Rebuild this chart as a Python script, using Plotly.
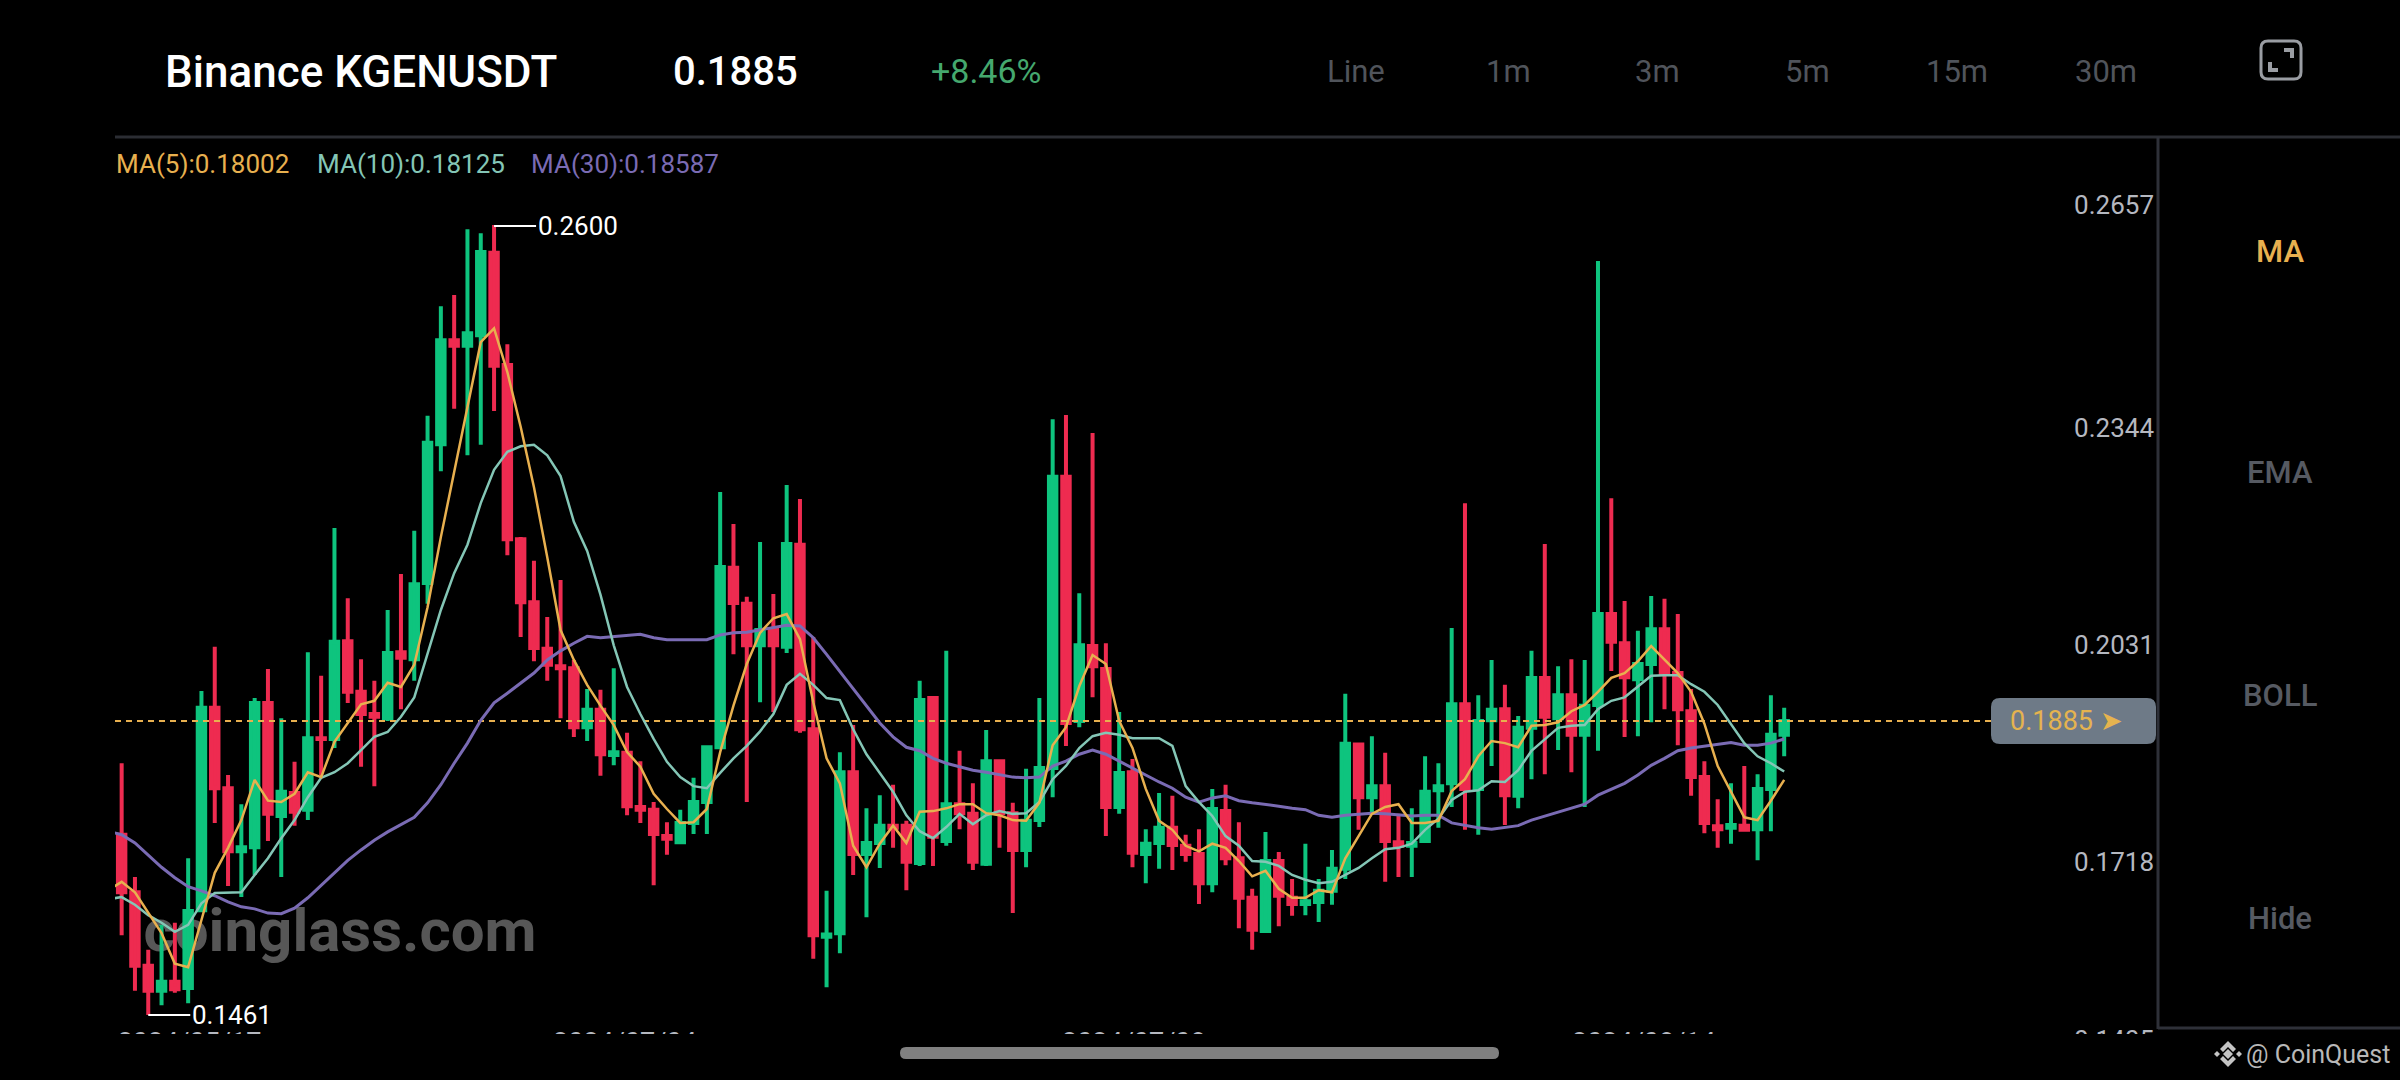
import plotly.graph_objects as go

W, H = 2400, 1080

# candles, oldest first
opens = [0.1721, 0.1638, 0.1532, 0.1496, 0.1509, 0.1500, 0.1612, 0.1904, 0.1788, 0.1697,
         0.1703, 0.1911, 0.1748, 0.1781, 0.1757, 0.1860, 0.1859, 0.2000, 0.1927, 0.1895,
         0.1889, 0.1984, 0.1974, 0.2084, 0.2284, 0.2434, 0.2426, 0.2441, 0.2560, 0.2398,
         0.2147, 0.2056, 0.1989, 0.1964, 0.1961, 0.1876, 0.1901, 0.1836, 0.1839, 0.1761,
         0.1757, 0.1719, 0.1710, 0.1738, 0.1768, 0.1847, 0.2106, 0.2054, 0.1994, 0.2016,
         0.1992, 0.2139, 0.1873, 0.1574, 0.1579, 0.1811, 0.1693, 0.1709, 0.1734, 0.1734,
         0.1680, 0.1918, 0.1712, 0.1765, 0.1751, 0.1679, 0.1827, 0.1752, 0.1699, 0.1742,
         0.1817, 0.2237, 0.1885, 0.1993, 0.1960, 0.1761, 0.1811, 0.1693, 0.1709, 0.1731,
         0.1705, 0.1693, 0.1651, 0.1755, 0.1687, 0.1630, 0.1582, 0.1683, 0.1630, 0.1621,
         0.1624, 0.1640, 0.1672, 0.1851, 0.1775, 0.1791, 0.1710, 0.1705, 0.1712, 0.1785,
         0.1795, 0.1909, 0.1787, 0.1886, 0.1902, 0.1777, 0.1875, 0.1947, 0.1889, 0.1922,
         0.1865, 0.1908, 0.2039, 0.1997, 0.1945, 0.1967, 0.2017, 0.1954, 0.1899, 0.1804,
         0.1733, 0.1731, 0.1734, 0.1729, 0.1787, 0.1865]
highs = [0.1824, 0.1660, 0.1555, 0.1591, 0.1594, 0.1687, 0.1928, 0.1992, 0.1807, 0.1765,
         0.1918, 0.1960, 0.1889, 0.1826, 0.1984, 0.1950, 0.2163, 0.2062, 0.1974, 0.1943,
         0.2045, 0.2097, 0.2159, 0.2325, 0.2483, 0.2499, 0.2594, 0.2588, 0.2600, 0.2428,
         0.2150, 0.2116, 0.2035, 0.2088, 0.1973, 0.1931, 0.1930, 0.1961, 0.1868, 0.1827,
         0.1768, 0.1739, 0.1757, 0.1803, 0.1849, 0.2215, 0.2169, 0.2064, 0.2143, 0.2068,
         0.2225, 0.2205, 0.2006, 0.1640, 0.1840, 0.1879, 0.1759, 0.1778, 0.1793, 0.1741,
         0.1943, 0.1920, 0.1986, 0.1842, 0.1795, 0.1872, 0.1829, 0.1767, 0.1816, 0.1918,
         0.2320, 0.2326, 0.2069, 0.2300, 0.1997, 0.1898, 0.1830, 0.1729, 0.1781, 0.1777,
         0.1721, 0.1729, 0.1787, 0.1793, 0.1739, 0.1643, 0.1725, 0.1696, 0.1657, 0.1708,
         0.1657, 0.1699, 0.1924, 0.1852, 0.1863, 0.1839, 0.1751, 0.1759, 0.1834, 0.1824,
         0.2019, 0.2199, 0.1922, 0.1973, 0.1937, 0.1892, 0.1986, 0.2140, 0.1964, 0.1974,
         0.1973, 0.2548, 0.2206, 0.2058, 0.2015, 0.2065, 0.2061, 0.2039, 0.1931, 0.1827,
         0.1772, 0.1795, 0.1820, 0.1808, 0.1922, 0.1904]
lows = [0.1576, 0.1496, 0.1461, 0.1475, 0.1493, 0.1478, 0.1610, 0.1738, 0.1647, 0.1631,
        0.1663, 0.1712, 0.1660, 0.1734, 0.1742, 0.1807, 0.1846, 0.1911, 0.1819, 0.1791,
        0.1885, 0.1902, 0.1943, 0.2054, 0.2245, 0.2335, 0.2268, 0.2283, 0.2332, 0.2124,
        0.2006, 0.1971, 0.1943, 0.1889, 0.1862, 0.1856, 0.1806, 0.1821, 0.1749, 0.1738,
        0.1648, 0.1692, 0.1709, 0.1722, 0.1722, 0.1846, 0.1981, 0.1768, 0.1912, 0.1898,
        0.1983, 0.1868, 0.1542, 0.1501, 0.1550, 0.1663, 0.1602, 0.1673, 0.1702, 0.1641,
        0.1676, 0.1676, 0.1705, 0.1729, 0.1670, 0.1676, 0.1702, 0.1608, 0.1674, 0.1732,
        0.1775, 0.1849, 0.1876, 0.1919, 0.1719, 0.1751, 0.1674, 0.1651, 0.1672, 0.1670,
        0.1682, 0.1621, 0.1638, 0.1677, 0.1586, 0.1555, 0.1580, 0.1589, 0.1604, 0.1605,
        0.1595, 0.1620, 0.1657, 0.1728, 0.1751, 0.1653, 0.1660, 0.1660, 0.1710, 0.1731,
        0.1761, 0.1728, 0.1721, 0.1820, 0.1735, 0.1759, 0.1801, 0.1808, 0.1843, 0.1811,
        0.1761, 0.1842, 0.1957, 0.1862, 0.1863, 0.1883, 0.1902, 0.1850, 0.1777, 0.1723,
        0.1702, 0.1708, 0.1727, 0.1684, 0.1726, 0.1834]
closes = [0.1638, 0.1532, 0.1496, 0.1509, 0.1498, 0.1611, 0.1904, 0.1788, 0.1697, 0.1703,
          0.1911, 0.1751, 0.1783, 0.1754, 0.1860, 0.1859, 0.1999, 0.1927, 0.1895, 0.1891,
          0.1983, 0.1976, 0.2082, 0.2286, 0.2434, 0.2426, 0.2444, 0.2561, 0.2397, 0.2147,
          0.2056, 0.1990, 0.1966, 0.1961, 0.1876, 0.1901, 0.1837, 0.1840, 0.1762, 0.1757,
          0.1722, 0.1715, 0.1738, 0.1768, 0.1847, 0.2107, 0.2055, 0.1994, 0.2016, 0.1994,
          0.2140, 0.1873, 0.1576, 0.1577, 0.1811, 0.1693, 0.1709, 0.1734, 0.1731, 0.1682,
          0.1915, 0.1718, 0.1765, 0.1752, 0.1682, 0.1827, 0.1752, 0.1699, 0.1741, 0.1817,
          0.2237, 0.1882, 0.1994, 0.1964, 0.1761, 0.1810, 0.1695, 0.1708, 0.1731, 0.1706,
          0.1693, 0.1651, 0.1758, 0.1687, 0.1630, 0.1584, 0.1683, 0.1633, 0.1621, 0.1625,
          0.1640, 0.1672, 0.1852, 0.1775, 0.1791, 0.1712, 0.1705, 0.1709, 0.1783, 0.1791,
          0.1909, 0.1787, 0.1885, 0.1901, 0.1778, 0.1875, 0.1947, 0.1891, 0.1922, 0.1865,
          0.1907, 0.2039, 0.1999, 0.1948, 0.1967, 0.2017, 0.1954, 0.1902, 0.1804, 0.1738,
          0.1729, 0.1735, 0.1728, 0.1787, 0.1865, 0.1885]

# moving averages, the first value is the one just left of the first candle
ma5 = [0.1641, 0.1653, 0.1638, 0.1608, 0.1579, 0.1535, 0.1530, 0.1598, 0.1666, 0.1702, 0.1742,
       0.1800, 0.1770, 0.1768, 0.1780, 0.1811, 0.1804, 0.1855, 0.1882, 0.1909, 0.1914,
       0.1940, 0.1934, 0.1966, 0.2049, 0.2150, 0.2244, 0.2338, 0.2431, 0.2451, 0.2388,
       0.2309, 0.2222, 0.2121, 0.2016, 0.1973, 0.1937, 0.1907, 0.1879, 0.1840, 0.1819,
       0.1780, 0.1758, 0.1738, 0.1739, 0.1758, 0.1840, 0.1907, 0.1967, 0.2012, 0.2033,
       0.2039, 0.2003, 0.1912, 0.1831, 0.1795, 0.1705, 0.1674, 0.1708, 0.1734, 0.1709,
       0.1754, 0.1755, 0.1759, 0.1765, 0.1765, 0.1752, 0.1749, 0.1742, 0.1741, 0.1767,
       0.1850, 0.1876, 0.1935, 0.1980, 0.1967, 0.1885, 0.1846, 0.1787, 0.1741, 0.1728,
       0.1705, 0.1697, 0.1708, 0.1702, 0.1683, 0.1661, 0.1669, 0.1643, 0.1630, 0.1630,
       0.1641, 0.1638, 0.1687, 0.1719, 0.1751, 0.1761, 0.1765, 0.1738, 0.1738, 0.1741,
       0.1784, 0.1801, 0.1834, 0.1856, 0.1853, 0.1847, 0.1878, 0.1879, 0.1883, 0.1899,
       0.1908, 0.1927, 0.1947, 0.1954, 0.1971, 0.1993, 0.1974, 0.1954, 0.1927, 0.1881,
       0.1820, 0.1784, 0.1746, 0.1742, 0.1770, 0.1800]
ma10 = [0.1628, 0.1631, 0.1620, 0.1605, 0.1594, 0.1581, 0.1591, 0.1622, 0.1637, 0.1638, 0.1638,
        0.1663, 0.1687, 0.1716, 0.1742, 0.1775, 0.1803, 0.1811, 0.1824, 0.1843, 0.1862,
        0.1869, 0.1891, 0.1919, 0.1983, 0.2045, 0.2098, 0.2139, 0.2199, 0.2247, 0.2273,
        0.2281, 0.2283, 0.2268, 0.2238, 0.2172, 0.2130, 0.2067, 0.1994, 0.1934, 0.1895,
        0.1859, 0.1826, 0.1804, 0.1791, 0.1788, 0.1810, 0.1831, 0.1849, 0.1870, 0.1895,
        0.1937, 0.1953, 0.1937, 0.1918, 0.1915, 0.1873, 0.1837, 0.1810, 0.1783, 0.1749,
        0.1726, 0.1716, 0.1732, 0.1751, 0.1736, 0.1749, 0.1755, 0.1751, 0.1752, 0.1768,
        0.1801, 0.1820, 0.1846, 0.1863, 0.1868, 0.1865, 0.1860, 0.1860, 0.1860, 0.1849,
        0.1791, 0.1768, 0.1748, 0.1719, 0.1705, 0.1683, 0.1682, 0.1676, 0.1663, 0.1656,
        0.1651, 0.1653, 0.1663, 0.1673, 0.1687, 0.1700, 0.1702, 0.1708, 0.1728, 0.1744,
        0.1771, 0.1783, 0.1785, 0.1798, 0.1797, 0.1814, 0.1842, 0.1859, 0.1875, 0.1878,
        0.1879, 0.1902, 0.1914, 0.1919, 0.1935, 0.1950, 0.1951, 0.1951, 0.1938, 0.1927,
        0.1908, 0.1881, 0.1853, 0.1834, 0.1824, 0.1812]
ma30 = [0.1726, 0.1721, 0.1709, 0.1692, 0.1674, 0.1659, 0.1646, 0.1640, 0.1633, 0.1624, 0.1617,
        0.1614, 0.1608, 0.1607, 0.1615, 0.1630, 0.1648, 0.1667, 0.1684, 0.1699, 0.1713,
        0.1725, 0.1735, 0.1746, 0.1767, 0.1793, 0.1824, 0.1853, 0.1886, 0.1911, 0.1925,
        0.1940, 0.1954, 0.1973, 0.1986, 0.1997, 0.2007, 0.2005, 0.2007, 0.2009, 0.2010,
        0.2005, 0.2002, 0.2002, 0.2002, 0.2002, 0.2009, 0.2012, 0.2013, 0.2016, 0.2019,
        0.2023, 0.2022, 0.2005, 0.1981, 0.1956, 0.1931, 0.1907, 0.1882, 0.1862, 0.1847,
        0.1842, 0.1831, 0.1824, 0.1819, 0.1814, 0.1811, 0.1808, 0.1804, 0.1803, 0.1804,
        0.1820, 0.1827, 0.1837, 0.1843, 0.1837, 0.1827, 0.1816, 0.1806, 0.1797, 0.1788,
        0.1775, 0.1768, 0.1774, 0.1777, 0.1770, 0.1767, 0.1765, 0.1762, 0.1759, 0.1757,
        0.1749, 0.1746, 0.1749, 0.1751, 0.1752, 0.1751, 0.1749, 0.1748, 0.1749, 0.1749,
        0.1738, 0.1734, 0.1731, 0.1729, 0.1731, 0.1734, 0.1742, 0.1748, 0.1754, 0.1759,
        0.1765, 0.1778, 0.1787, 0.1795, 0.1807, 0.1821, 0.1831, 0.1842, 0.1846, 0.1849,
        0.1851, 0.1854, 0.1850, 0.1850, 0.1853, 0.1859]

last_price = 0.1885
price_labels = ['0.2657', '0.2344', '0.2031', '0.1718']
# the app nudges its top label up a little so it stays in view
price_ticks = [0.2665, 0.2344, 0.2031, 0.1718]
# the bottom labels are cut off in the screenshot, only the tops show
date_ticks = [5.1, 37.84, 76.1, 114.45]
date_labels = ['2024/05/17', '2024/07/04', '2024/07/08', '2024/08/14']
cut_price_label = '0.1405'
periods = ['Line', '1m', '3m', '5m', '15m', '30m']
period_pos = [1356, 1508, 1657, 1807, 1957, 2106]
side_tabs = ['MA', 'EMA', 'BOLL', 'Hide']
side_pos = [251, 473, 695, 918]

ORANGE, TEAL, PURPLE = '#e8b04f', '#84c6b6', '#7a6bb4'
GREEN, RED = '#0ec47e', '#ee2b50'
LABEL = '#b5b8c0'
FONT = 'Roboto'


def px(x):
    return x / W


def py(y):
    return 1 - y / H


def txt(x, y, text, size, color, anchor='left', weight=400):
    return dict(x=px(x), y=py(y), xref='paper', yref='paper', text=text, showarrow=False,
                xanchor=anchor, yanchor='middle',
                font=dict(family=FONT, size=size, color=color, weight=weight))


def path_shape(path, fill=None, line=None, width=0, layer='above'):
    return dict(type='path', path=path, xref='paper', yref='paper', layer=layer,
                fillcolor=fill or 'rgba(0,0,0,0)',
                line=dict(color=line or 'rgba(0,0,0,0)', width=width))


def round_rect(x0, y0, x1, y1, r):
    # rounded rectangle in screen pixels, as an svg path in paper coordinates
    ry = r
    return (f'M{px(x0 + r)},{py(y0)} L{px(x1 - r)},{py(y0)} Q{px(x1)},{py(y0)} {px(x1)},{py(y0 + ry)} '
            f'L{px(x1)},{py(y1 - ry)} Q{px(x1)},{py(y1)} {px(x1 - r)},{py(y1)} '
            f'L{px(x0 + r)},{py(y1)} Q{px(x0)},{py(y1)} {px(x0)},{py(y1 - ry)} '
            f'L{px(x0)},{py(y0 + ry)} Q{px(x0)},{py(y0)} {px(x0 + r)},{py(y0)} Z')


def poly(points):
    return 'M' + ' L'.join(f'{px(x)},{py(y)}' for x, y in points) + ' Z'


def diamond(cx, cy, r):
    return poly([(cx, cy - r), (cx + r, cy), (cx, cy + r), (cx - r, cy)])


xs = list(range(len(opens)))
ma_xs = list(range(-1, len(opens)))

fig = go.Figure()
fig.add_trace(go.Candlestick(x=xs, open=opens, high=highs, low=lows, close=closes,
                             whiskerwidth=0,
                             increasing=dict(line=dict(color=GREEN, width=4), fillcolor=GREEN),
                             decreasing=dict(line=dict(color=RED, width=4), fillcolor=RED)))
fig.add_trace(go.Scatter(x=[-0.5, 140.8], y=[last_price, last_price], mode='lines',
                         line=dict(color=ORANGE, width=2, dash='6px,5px')))
fig.add_trace(go.Scatter(x=ma_xs, y=ma30, mode='lines', line=dict(color=PURPLE, width=3)))
fig.add_trace(go.Scatter(x=ma_xs, y=ma10, mode='lines', line=dict(color=TEAL, width=2.5)))
fig.add_trace(go.Scatter(x=ma_xs, y=ma5, mode='lines', line=dict(color=ORANGE, width=2.5)))
# lowest price label, anchored at the plot's bottom edge and mostly under the black strip
fig.add_trace(go.Scatter(x=[149.8], y=[0.1440], mode='text', text=[cut_price_label], cliponaxis=False,
                         textposition='bottom center', textfont=dict(family=FONT, size=26, color=LABEL)))

shapes = [
    # watermark sits under the candles
    dict(type='rect', xref='paper', yref='paper', layer='below', x0=px(140), x1=px(540), y0=py(966), y1=py(886),
         line=dict(width=0), label=dict(text='coinglass.com', textposition='middle center',
                                        font=dict(family=FONT, size=60, color='#575757', weight=700))),
    # hides the lower part of the bottom labels
    dict(type='rect', xref='paper', yref='paper', layer='above', x0=0, x1=1, y0=0, y1=py(1034),
         fillcolor='#000000', line=dict(width=0)),
    dict(type='line', xref='paper', yref='paper', layer='above', x0=px(115), x1=1, y0=py(137), y1=py(137),
         line=dict(color='#2b2d33', width=3)),
    dict(type='line', xref='paper', yref='paper', layer='above', x0=px(2158), x1=px(2158), y0=py(137), y1=py(1029),
         line=dict(color='#2e3038', width=3)),
    dict(type='line', xref='paper', yref='paper', layer='above', x0=px(2158), x1=1, y0=py(1028), y1=py(1028),
         line=dict(color='#2e3038', width=3)),
    path_shape(round_rect(1991, 698, 2156, 744, 9), fill='#6e7a87'),
    path_shape(round_rect(900, 1047, 1499, 1059, 6), fill='#808080'),
    # expand icon
    path_shape(round_rect(2261, 41, 2301, 79, 7), line='#9a9da3', width=3),
    path_shape(poly([(2284, 48), (2294, 48), (2294, 58), (2290, 58), (2290, 52), (2284, 52)]), fill='#9a9da3'),
    path_shape(poly([(2268, 62), (2272, 62), (2272, 68), (2278, 68), (2278, 72), (2268, 72)]), fill='#9a9da3'),
    # logo next to the handle
    path_shape(diamond(2228, 1054, 5), fill='#c4c4c4'),
    path_shape(diamond(2217, 1054, 3), fill='#c4c4c4'),
    path_shape(diamond(2239, 1054, 3), fill='#c4c4c4'),
    path_shape(poly([(2228, 1041), (2236, 1049), (2233, 1052), (2228, 1047), (2223, 1052), (2220, 1049)]), fill='#c4c4c4'),
    path_shape(poly([(2228, 1067), (2236, 1059), (2233, 1056), (2228, 1061), (2223, 1056), (2220, 1059)]), fill='#c4c4c4'),
]

annotations = [
    txt(163, 72, 'Binance KGENUSDT', 44, '#ffffff', weight=500),
    txt(671, 72, '0.1885', 40, '#ffffff', weight=500),
    txt(929, 71, '+8.46%', 34, '#45a86e'),
    txt(114, 164, 'MA(5):0.18002', 26, ORANGE),
    txt(315, 164, 'MA(10):0.18125', 26, TEAL),
    txt(529, 164, 'MA(30):0.18587', 26, PURPLE),
    txt(2008, 721, '0.1885 ➤', 27, '#e5b34f'),
    txt(2392, 1054, '@ CoinQuest', 25, '#b8b8b8', anchor='right'),
    dict(x=28, y=0.26, text='0.2600', showarrow=True, arrowhead=0, arrowwidth=2, arrowcolor='#ffffff',
         ax=42, ay=0, xanchor='left', yanchor='middle', standoff=0, yshift=-1,
         font=dict(family=FONT, size=26, color='#ffffff')),
    dict(x=2, y=0.1461, text='0.1461', showarrow=True, arrowhead=0, arrowwidth=2, arrowcolor='#ffffff',
         ax=42, ay=0, xanchor='left', yanchor='middle', standoff=0,
         font=dict(family=FONT, size=26, color='#ffffff')),
]
for name, x in zip(periods, period_pos):
    annotations.append(txt(x, 71, name, 31, '#50545b', anchor='center'))
for i, (name, y) in enumerate(zip(side_tabs, side_pos)):
    annotations.append(txt(2280, y, name, 31, ORANGE if i == 0 else '#565a62', anchor='center', weight=500))

fig.update_layout(
    width=W, height=H, autosize=False, showlegend=False,
    paper_bgcolor='#000000', plot_bgcolor='#000000',
    margin=dict(l=0, r=0, t=0, b=0),
    boxgap=0.2,
    xaxis=dict(domain=[px(115), px(2157)], range=[-0.5, 153.03], rangeslider=dict(visible=False),
               showgrid=False, zeroline=False, showline=False, ticks='',
               tickmode='array', tickvals=date_ticks, ticktext=date_labels, ticklabelstandoff=-6,
               tickfont=dict(family=FONT, size=27, color=LABEL)),
    yaxis=dict(domain=[py(1030), py(136)], range=[0.14394, 0.27283], side='right',
               showgrid=False, zeroline=False, showline=False, ticks='',
               tickmode='array', tickvals=price_ticks, ticktext=price_labels,
               ticklabelposition='inside', ticklabelshift=25,
               tickfont=dict(family=FONT, size=26, color=LABEL)),
    shapes=shapes, annotations=annotations, hovermode=False,
)

fig.write_html("out.html", config={'displayModeBar': False},
               post_script="document.body.style.margin='0';")
